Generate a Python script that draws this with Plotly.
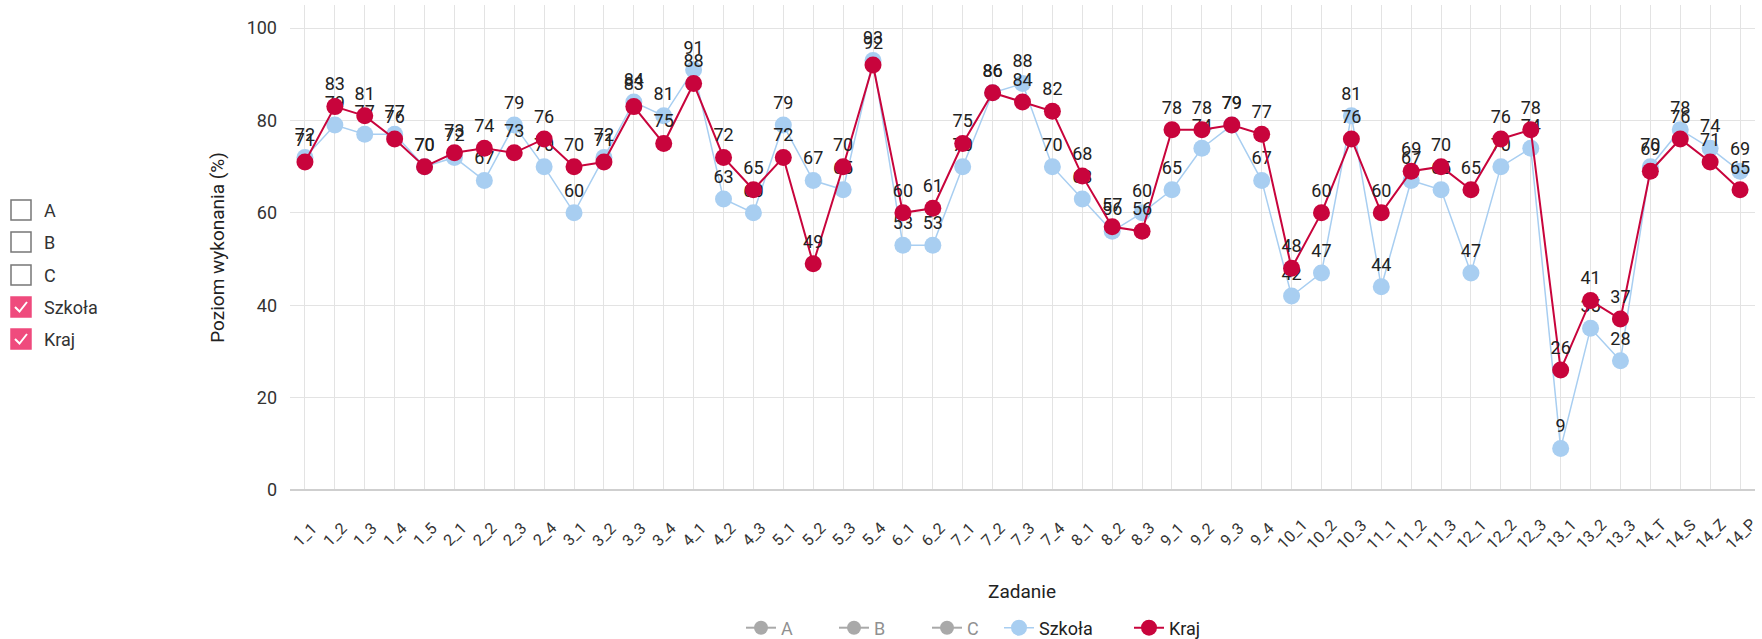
import plotly.graph_objects as go

categories = ["1_1","1_2","1_3","1_4","1_5","2_1","2_2","2_3","2_4","3_1","3_2","3_3","3_4",
              "4_1","4_2","4_3","5_1","5_2","5_3","5_4","6_1","6_2","7_1","7_2","7_3","7_4",
              "8_1","8_2","8_3","9_1","9_2","9_3","9_4","10_1","10_2","10_3","11_1","11_2",
              "11_3","12_1","12_2","12_3","13_1","13_2","13_3","14_T","14_S","14_Z","14_P"]
szkola = [72,79,77,77,70,72,67,79,70,60,72,84,81,91,63,60,79,67,65,93,53,53,70,86,88,70,
          63,56,60,65,74,79,67,42,47,81,44,67,65,47,70,74,9,35,28,70,78,74,69]
kraj = [71,83,81,76,70,73,74,73,76,70,71,83,75,88,72,65,72,49,70,92,60,61,75,86,84,82,
        68,57,56,78,78,79,77,48,60,76,60,69,70,65,76,78,26,41,37,69,76,71,65]
hidden_series = ["A", "B", "C"]
toggle_labels = ["A", "B", "C", "Szkoła", "Kraj"]
toggle_checked = [False, False, False, True, True]

BLUE = "#a8cef1"
RED = "#c8043c"
FONT = "Roboto"

W, H = 1762, 639
ML, MR, MT, MB = 290, 7, 5, 149
PW, PH = W - ML - MR, H - MT - MB


def px_x(px):
    return (px - ML) / PW


def px_y(py):
    return (H - MB - py) / PH


fig = go.Figure()
for name in hidden_series:
    fig.add_trace(go.Scatter(x=categories, y=[None] * len(categories), name=name,
                             mode="lines+markers", legend="legend",
                             marker=dict(color="#555", size=14), line=dict(color="#555", width=2),
                             visible="legendonly", showlegend=True))
fig.add_trace(go.Scatter(x=categories, y=szkola, name="Szkoła", mode="lines+markers+text",
                         text=[str(v) for v in szkola], textposition="top center",
                         textfont=dict(size=18, color="#222", family=FONT), legend="legend2",
                         marker=dict(color=BLUE, size=17), line=dict(color=BLUE, width=1.5),
                         cliponaxis=False))
fig.add_trace(go.Scatter(x=categories, y=kraj, name="Kraj", mode="lines+markers+text",
                         text=[str(v) for v in kraj], textposition="top center",
                         textfont=dict(size=18, color="#222", family=FONT), legend="legend2",
                         marker=dict(color=RED, size=17), line=dict(color=RED, width=2),
                         cliponaxis=False))

fig.update_layout(
    width=W, height=H,
    margin=dict(l=ML, r=MR, t=MT, b=MB, autoexpand=False),
    paper_bgcolor="white", plot_bgcolor="white",
    font=dict(family=FONT, size=16, color="#333"),
    legend=dict(orientation="h", x=px_x(741), xanchor="left", y=px_y(628), yanchor="middle",
                font=dict(size=18, color="#222"), entrywidth=48, entrywidthmode="pixels"),
    legend2=dict(orientation="h", x=px_x(999), xanchor="left", y=px_y(628), yanchor="middle",
                 font=dict(size=18, color="#222"), entrywidth=85, entrywidthmode="pixels"),
    showlegend=True,
)
fig.update_xaxes(
    type="category", categoryorder="array", categoryarray=categories,
    range=[-0.5, len(categories) - 0.5],
    showticklabels=False,
    showgrid=True, gridcolor="#e3e3e3", gridwidth=1,
    ticks="", showline=False, zeroline=False, automargin=False,
)
fig.update_yaxes(
    range=[0, 105], tickvals=[0, 20, 40, 60, 80, 100],
    tickfont=dict(size=18, color="#333"), ticklabelstandoff=12,
    showgrid=True, gridcolor="#e3e3e3", gridwidth=1,
    title=dict(text="Poziom wykonania (%)", font=dict(size=19, color="#222"), standoff=16),
    zeroline=True, zerolinecolor="#cfcfcf", zerolinewidth=1.5,
    ticks="", showline=False, automargin=False,
)

# rotated category labels, centred under each category
for cat in categories:
    fig.add_annotation(x=cat, xref="x", y=px_y(534), yref="paper", text=cat,
                       textangle=-45, showarrow=False, xanchor="center", yanchor="middle",
                       font=dict(size=16, color="#333", family=FONT))

# x-axis title
fig.add_annotation(x=px_x(1022), xref="paper", y=px_y(591), yref="paper", text="Zadanie",
                   showarrow=False, xanchor="center", yanchor="middle",
                   font=dict(size=19, color="#222", family=FONT))

# left-side checkbox panel
PINK = "#ef4b7d"
box_ys = [210, 242, 275, 307, 339]
for label, checked, ypx in zip(toggle_labels, toggle_checked, box_ys):
    x0, x1 = px_x(11), px_x(31)
    y0, y1 = px_y(ypx + 10), px_y(ypx - 10)
    if checked:
        fig.add_shape(type="rect", xref="paper", yref="paper", x0=x0, x1=x1, y0=y0, y1=y1,
                      fillcolor=PINK, line=dict(color=PINK, width=1.5), layer="above")
        fig.add_shape(type="path", xref="paper", yref="paper",
                      path=f"M {px_x(15)} {px_y(ypx)} L {px_x(19.5)} {px_y(ypx + 4.5)} L {px_x(27)} {px_y(ypx - 5)}",
                      line=dict(color="white", width=2), layer="above")
    else:
        fig.add_shape(type="rect", xref="paper", yref="paper", x0=x0, x1=x1, y0=y0, y1=y1,
                      fillcolor="white", line=dict(color="#777", width=1.5), layer="above")
    fig.add_annotation(xref="paper", yref="paper", x=px_x(42), y=px_y(ypx),
                       xanchor="left", yanchor="middle", text=label, showarrow=False,
                       font=dict(size=18, color="#333", family=FONT))

fig.write_html("out.html", config={"displayModeBar": False},
               post_script="document.body.style.margin='0';document.body.style.overflow='hidden';")
